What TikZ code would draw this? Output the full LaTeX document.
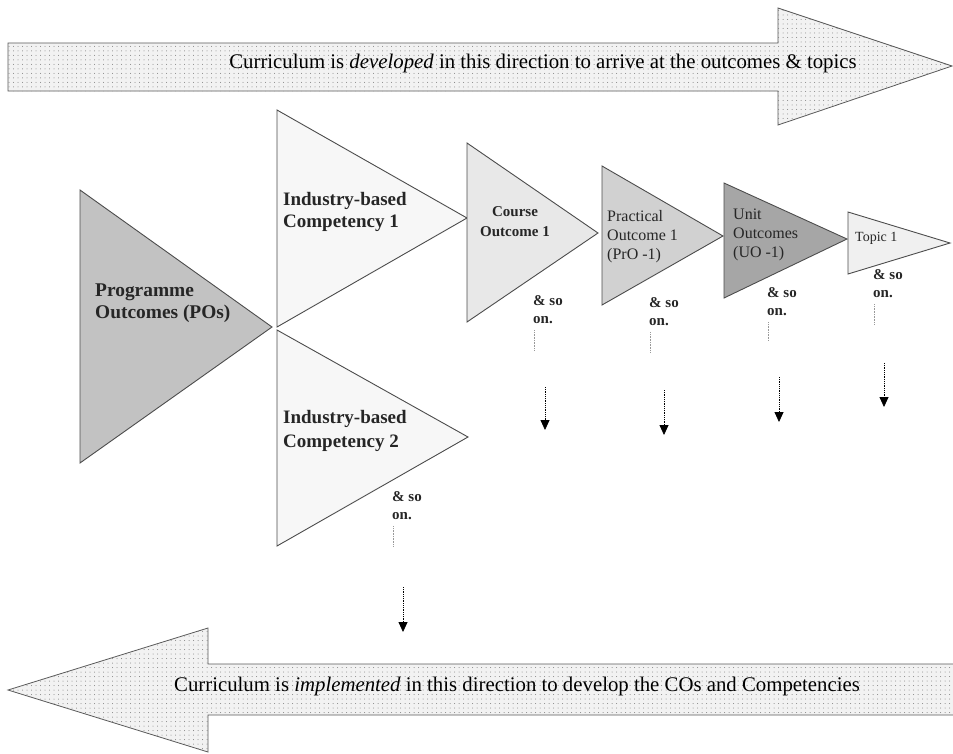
\documentclass[tikz,border=0pt]{standalone}
\usepackage{fontspec}
\setmainfont{Liberation Serif}
\usetikzlibrary{arrows.meta,patterns.meta}

\begin{document}
\begin{tikzpicture}[x=1pt, y=-1pt, >={Triangle[width=9pt,length=10pt]},
  tri/.style={draw=black!70, line width=0.9pt, line join=miter},
  bigarrow/.style={draw=black!65, line width=0.8pt, fill=black!5,
    postaction={pattern={Dots[radius=0.5pt,distance=4.5pt]}, pattern color=black!50}},
  lbl/.style={anchor=west, align=left, inner sep=0pt, text=black!85},
  soon/.style={anchor=west, align=left, inner sep=0pt, text=black!85,
    font=\bfseries\fontsize{15}{18}\selectfont},
  stub/.style={densely dotted, draw=black!40, line width=0.6pt},
  down/.style={->, densely dotted, line width=0.8pt}]
  \useasboundingbox (0,0) rectangle (953,753);

  % Development arrow (top)
  \draw[bigarrow] (8,43) -- (778,43) -- (778,8) -- (952,66) -- (778,125)
    -- (778,91) -- (8,91) -- cycle;
  \node[inner sep=0pt, font=\fontsize{20.8}{22}\selectfont] (dev) at (543,63)
    {Curriculum is \textit{developed} in this direction to arrive at the outcomes \& topics};

  % Implementation arrow (bottom)
  \draw[bigarrow] (958,664) -- (208,664) -- (208,628) -- (8,690) -- (208,752)
    -- (208,715) -- (958,715) -- cycle;
  \node[inner sep=0pt, font=\fontsize{20.8}{22}\selectfont] (impl) at (517,686)
    {Curriculum is \textit{implemented} in this direction to develop the COs and Competencies};

  % Triangles
  \draw[tri, fill=black!24] (80,190) -- (80,463) -- (272,327) -- cycle;
  \draw[tri, fill=black!3] (277,110) -- (277,327) -- (467,218) -- cycle;
  \draw[tri, fill=black!3] (277,330) -- (277,546) -- (468,437) -- cycle;
  \draw[tri, fill=black!9] (467,143) -- (467,322) -- (598,233) -- cycle;
  \draw[tri, fill=black!18] (602,166) -- (602,305) -- (723,236) -- cycle;
  \draw[tri, fill=black!35] (724,183) -- (724,298) -- (847,239) -- cycle;
  \draw[tri, fill=black!6] (848,212) -- (848,274) -- (950,243) -- cycle;

  % Labels in the triangles
  \node[lbl, font=\bfseries\fontsize{19.4}{22}\selectfont] (po) at (95,303)
    {Programme\\Outcomes (POs)};
  \node[lbl, font=\bfseries\fontsize{19}{22}\selectfont] (ibc1) at (283,212)
    {Industry-based\\Competency 1};
  \node[lbl, font=\bfseries\fontsize{19}{24}\selectfont] (ibc2) at (283,431)
    {Industry-based\\Competency 2};
  \node[inner sep=0pt, align=center, text=black!85,
    font=\bfseries\fontsize{15}{20}\selectfont] (co) at (515,222) {Course\\Outcome 1};
  \node[lbl, font=\fontsize{16}{19}\selectfont] (pro) at (607,237)
    {Practical\\Outcome 1\\(PrO -1)};
  \node[lbl, font=\fontsize{16}{19}\selectfont] (uo) at (733,235)
    {Unit\\Outcomes\\(UO -1)};
  \node[lbl, font=\fontsize{14}{18}\selectfont] (topic) at (855,238) {Topic 1};

  % & so on.
  \node[soon] (soibc) at (392,506) {\& so\\on.};
  \node[soon] (soco) at (533,310) {\& so\\on.};
  \node[soon] (sopro) at (649,312) {\& so\\on.};
  \node[soon] (souo) at (767,302) {\& so\\on.};
  \node[soon] (sotopic) at (873,284) {\& so\\on.};

  % Dotted stubs
  \draw[stub] ([xshift=1pt,yshift=-6pt]soibc.south west) -- ++(0,20);
  \draw[stub] ([xshift=1pt,yshift=-6pt]soco.south west) -- ++(0,20);
  \draw[stub] ([xshift=1pt,yshift=-6pt]sopro.south west) -- ++(0,20);
  \draw[stub] ([xshift=1pt,yshift=-6pt]souo.south west) -- ++(0,18);
  \draw[stub] ([xshift=1pt,yshift=-6pt]sotopic.south west) -- ++(0,20);

  % Dotted arrows
  \coordinate (ibc-a) at (403,587);  \coordinate (ibc-b) at (403,632);
  \coordinate (co-a) at (545,387);   \coordinate (co-b) at (545,430);
  \coordinate (pro-a) at (664,390);  \coordinate (pro-b) at (664,435);
  \coordinate (uo-a) at (779,377);   \coordinate (uo-b) at (779,422);
  \coordinate (top-a) at (884,363);  \coordinate (top-b) at (884,407);
  \draw[down] (ibc-a) -- (ibc-b);
  \draw[down] (co-a) -- (co-b);
  \draw[down] (pro-a) -- (pro-b);
  \draw[down] (uo-a) -- (uo-b);
  \draw[down] (top-a) -- (top-b);
\end{tikzpicture}
\end{document}
